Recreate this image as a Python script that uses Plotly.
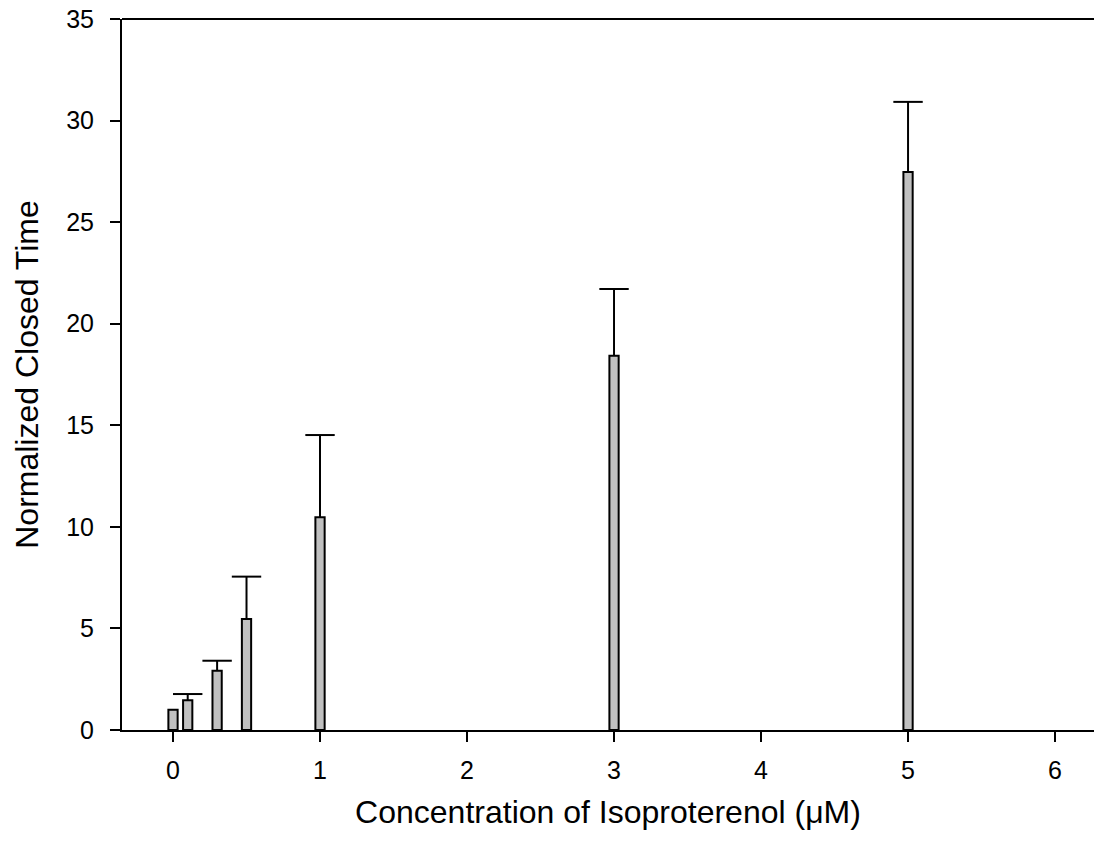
import plotly.graph_objects as go

concentrations = [0, 0.1, 0.3, 0.5, 1, 3, 5]
closed_time = [1.0, 1.47, 2.92, 5.47, 10.47, 18.42, 27.47]
error_upper = [None, 0.30, 0.49, 2.08, 4.05, 3.29, 3.45]

err_vals = [e if e is not None else 0 for e in error_upper]
cap_y = [v + e if e is not None else None for v, e in zip(closed_time, error_upper)]

fig = go.Figure()
fig.add_trace(go.Bar(
    x=concentrations,
    y=closed_time,
    width=0.063,
    marker=dict(color="#c0c0c0", line=dict(color="black", width=2)),
    error_y=dict(type="data", symmetric=False, array=err_vals,
                 arrayminus=[0]*len(err_vals),
                 color="black", thickness=2, width=0, visible=True),
))
fig.add_trace(go.Scatter(
    x=concentrations, y=cap_y, mode="markers",
    marker=dict(symbol="line-ew", size=21, line=dict(color="black", width=2)),
    hoverinfo="skip",
))

fig.update_layout(
    width=1094, height=854,
    margin=dict(l=122, r=0, t=19, b=124),
    plot_bgcolor="white", paper_bgcolor="white",
    showlegend=False,
    font=dict(family="Liberation Sans, Arial", color="black"),
    xaxis=dict(
        range=[-0.347, 6.265],
        tickvals=[0, 1, 2, 3, 4, 5, 6],
        ticks="outside", ticklen=10, tickwidth=2, tickcolor="black",
        showline=True, linecolor="black", linewidth=2,
        showgrid=False, zeroline=False, automargin=False,
        tickfont=dict(size=25),
        ticklabelstandoff=7,
        title=dict(text="Concentration of Isoproterenol (μM)", font=dict(size=32), standoff=18),
    ),
    yaxis=dict(
        range=[0, 35],
        tickvals=[0, 5, 10, 15, 20, 25, 30, 35],
        ticks="outside", ticklen=10, tickwidth=2, tickcolor="black",
        showline=True, linecolor="black", linewidth=2,
        showgrid=False, zeroline=False, automargin=False,
        tickfont=dict(size=25),
        ticklabelstandoff=11,
        title=dict(text="Normalized Closed Time", font=dict(size=32), standoff=18),
    ),
)
fig.add_shape(type="line", xref="paper", yref="paper", x0=0, x1=1, y0=1, y1=1,
              line=dict(color="black", width=2))

fig.write_html("out.html", config={"displayModeBar": False},
               post_script="document.body.style.margin='0';document.body.style.overflow='hidden';")
